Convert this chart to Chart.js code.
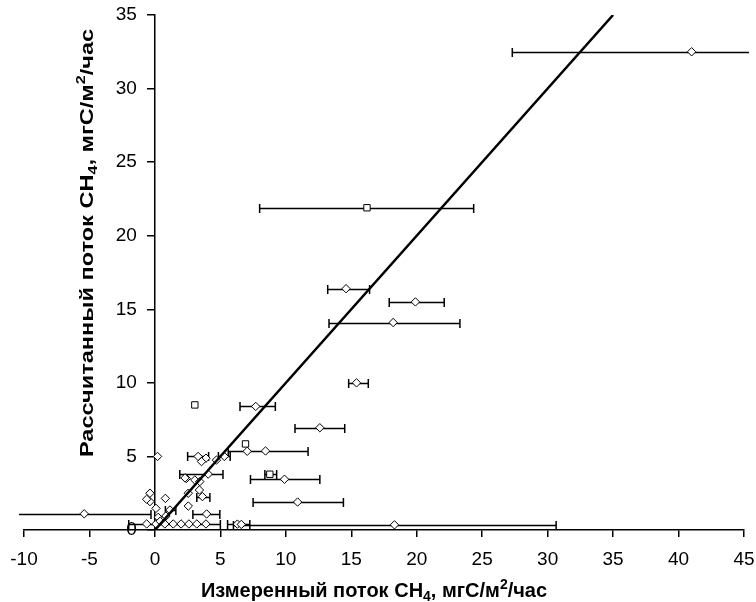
<!DOCTYPE html>
<html>
<head>
<meta charset="utf-8">
<script src="https://cdn.jsdelivr.net/npm/chart.js"></script>
<style>
  html, body { margin: 0; padding: 0; background: #fff; }
  #wrap { width: 756px; height: 602px; }
</style>
</head>
<body>
<div id="wrap"><canvas id="fluxChart"></canvas></div>
<script>
// measured flux (x), calculated flux (y), error bar ends on x (null = no bar)
const measured   = [41.0, 14.6, 19.9, 18.2, 15.4, 7.7, 12.6, 7.05, 8.45, 9.9, 10.9, 18.3, 6.3, 6.6, -5.4,
                    0.2, 3.3, 3.9, 3.56, 4.7, 5.3, 4.07, 2.4, 3.05, 3.43, 2.3, 2.55, 3.4, 3.63,
                    -0.38, -0.38, -0.63, 0.08, 0.8, 2.55, 3.95, 1.15, 0.84, 0.25,
                    -0.63, 0.08, 0.76, 1.4, 2.0, 2.6, 3.2, 3.9, 0.4];
const calculated = [32.5, 16.4, 15.5, 14.1, 10.0, 8.4, 6.95, 5.35, 5.37, 3.45, 1.9, 0.35, 0.4, 0.38, 1.1,
                    5.0, 5.0, 4.88, 4.65, 4.75, 5.0, 3.8, 3.5, 3.4, 3.29, 3.54, 2.5, 2.72, 2.27,
                    2.5, 1.93, 2.09, 1.47, 2.15, 1.63, 1.09, 1.36, 0.95, 0.86,
                    0.41, 0.41, 0.41, 0.41, 0.41, 0.41, 0.41, 0.41, 0.6];
const errLow     = [27.3, 13.2, 17.9, 13.3, 14.8, 6.5, 10.7, null, 5.6, 7.3, 7.5, 6.0, 5.55, null, -10.8,
                    null, 2.5, null, null, null, 4.85, 1.9, null, null, null, null, null, null, 3.2,
                    null, null, null, null, null, null, 2.9, 0.8, null, null,
                    null, null, null, -2.0, null, null, null, null, null];
const errHigh    = [45.8, 16.4, 22.1, 23.3, 16.3, 9.2, 14.5, null, 11.7, 12.6, 14.4, 30.65, 7.25, null, -0.3,
                    null, 4.1, null, null, null, 5.75, 5.2, null, null, null, null, null, null, 4.2,
                    null, null, null, null, null, null, 4.96, 1.6, null, null,
                    null, null, null, 5.0, null, null, null, null, null];

// points drawn with the second (square) marker
const altMeasured   = [16.2, 3.05, 6.92, 8.78];
const altCalculated = [21.9, 8.5, 5.85, 3.79];
const altErrLow     = [8.0, null, null, 8.4];
const altErrHigh    = [24.35, null, null, 9.3];

// 1:1 line
const lineX = [0, 35];
const lineY = [0, 35];

const xTicks = [-10, -5, 0, 5, 10, 15, 20, 25, 30, 35, 40, 45];
const yTicks = [0, 5, 10, 15, 20, 25, 30, 35];

const xTitle = [{t: 'Измеренный поток CH'}, {t: '4', s: 'sub'}, {t: ', мгС/м'}, {t: '2', s: 'sup'}, {t: '/час'}];
const yTitle = [{t: 'Рассчитанный поток CH'}, {t: '4', s: 'sub'}, {t: ', мгС/м'}, {t: '2', s: 'sup'}, {t: '/час'}];

const FONT = '"Liberation Sans", Arial, sans-serif';
const toPoints = (xs, ys) => xs.map((v, i) => ({x: v, y: ys[i]}));

const errorBars = {
  id: 'errorBars',
  beforeDatasetsDraw(chart) {
    const {ctx, chartArea: a, scales: {x, y}} = chart;
    ctx.save();
    ctx.beginPath();
    ctx.rect(a.left - 5, a.top, a.right - a.left + 10, a.bottom - a.top + 2);
    ctx.clip();
    ctx.strokeStyle = '#000';
    ctx.lineWidth = 1.5;
    chart.data.datasets.forEach(ds => {
      if (!ds.errLow) return;
      ds.data.forEach((p, i) => {
        const lo = ds.errLow[i], hi = ds.errHigh[i];
        if (lo == null || hi == null) return;
        const py = Math.round(y.getPixelForValue(p.y)) + 0.5;
        const x1 = x.getPixelForValue(lo), x2 = x.getPixelForValue(hi);
        ctx.beginPath();
        ctx.moveTo(x1, py); ctx.lineTo(x2, py);
        ctx.moveTo(x1, py - 4.5); ctx.lineTo(x1, py + 4.5);
        ctx.moveTo(x2, py - 4.5); ctx.lineTo(x2, py + 4.5);
        ctx.stroke();
      });
    });
    ctx.restore();
  }
};

function drawRich(ctx, parts, cx, baseY, size) {
  const big = 'bold ' + size + 'px ' + FONT;
  const small = 'bold ' + Math.round(size * 0.68) + 'px ' + FONT;
  let total = 0;
  parts.forEach(p => { ctx.font = p.s ? small : big; p.w = ctx.measureText(p.t).width; total += p.w; });
  let px = cx - total / 2;
  parts.forEach(p => {
    ctx.font = p.s ? small : big;
    const dy = p.s === 'sub' ? size * 0.22 : p.s === 'sup' ? -size * 0.42 : 0;
    ctx.fillText(p.t, px, baseY + dy);
    px += p.w;
  });
}

// tick labels (y ones sit left of the axis crossing at x = 0) and titles with sub/superscripts
const axisText = {
  id: 'axisText',
  afterDraw(chart) {
    const {ctx, chartArea: a, scales: {x, y}} = chart;
    const axisX = x.getPixelForValue(y.options.position.x);
    ctx.save();
    ctx.fillStyle = '#000';
    ctx.font = '19px ' + FONT;
    ctx.textBaseline = 'middle';
    ctx.textAlign = 'right';
    y.ticks.forEach(t => ctx.fillText(String(t.value), axisX - 18, y.getPixelForValue(t.value)));
    ctx.textAlign = 'center';
    x.ticks.forEach(t => ctx.fillText(String(t.value), x.getPixelForValue(t.value), a.bottom + 30));

    ctx.textBaseline = 'alphabetic';
    ctx.textAlign = 'left';
    drawRich(ctx, xTitle, 374, 597, 20);
    ctx.translate(93, 243);
    ctx.rotate(-Math.PI / 2);
    ctx.scale(1.24, 1);
    drawRich(ctx, yTitle, 0, 0, 19);
    ctx.restore();
  }
};

const axisGrid = { drawOnChartArea: false, drawTicks: true, tickLength: 7, color: '#000', tickColor: '#000', lineWidth: 1.5 };

new Chart(document.getElementById('fluxChart'), {
  type: 'scatter',
  data: {
    datasets: [
      {
        type: 'line',
        data: toPoints(lineX, lineY),
        borderColor: '#000',
        borderWidth: 2.5,
        pointRadius: 0,
        fill: false,
        order: 0
      },
      {
        data: toPoints(altMeasured, altCalculated),
        errLow: altErrLow,
        errHigh: altErrHigh,
        pointStyle: 'rect',
        pointRadius: 4.5,
        backgroundColor: '#fff',
        borderColor: '#000',
        borderWidth: 1,
        order: 1
      },
      {
        data: toPoints(measured, calculated),
        errLow: errLow,
        errHigh: errHigh,
        pointStyle: 'rectRot',
        pointRadius: 4.2,
        backgroundColor: '#fff',
        borderColor: '#000',
        borderWidth: 1,
        order: 2
      }
    ]
  },
  options: {
    responsive: true,
    maintainAspectRatio: false,
    animation: false,
    layout: { padding: { left: 24, right: 12, top: 15, bottom: 65 } },
    plugins: { legend: { display: false }, tooltip: { enabled: false } },
    scales: {
      x: {
        type: 'linear',
        min: xTicks[0],
        max: xTicks[xTicks.length - 1],
        ticks: { display: false, stepSize: xTicks[1] - xTicks[0], padding: 0 },
        grid: axisGrid,
        border: { color: '#000', width: 1.5 }
      },
      y: {
        type: 'linear',
        position: { x: 0 },
        min: yTicks[0],
        max: yTicks[yTicks.length - 1],
        ticks: { display: false, stepSize: yTicks[1] - yTicks[0], padding: 0 },
        grid: axisGrid,
        border: { color: '#000', width: 1.5 }
      }
    }
  },
  plugins: [errorBars, axisText]
});
</script>
</body>
</html>
